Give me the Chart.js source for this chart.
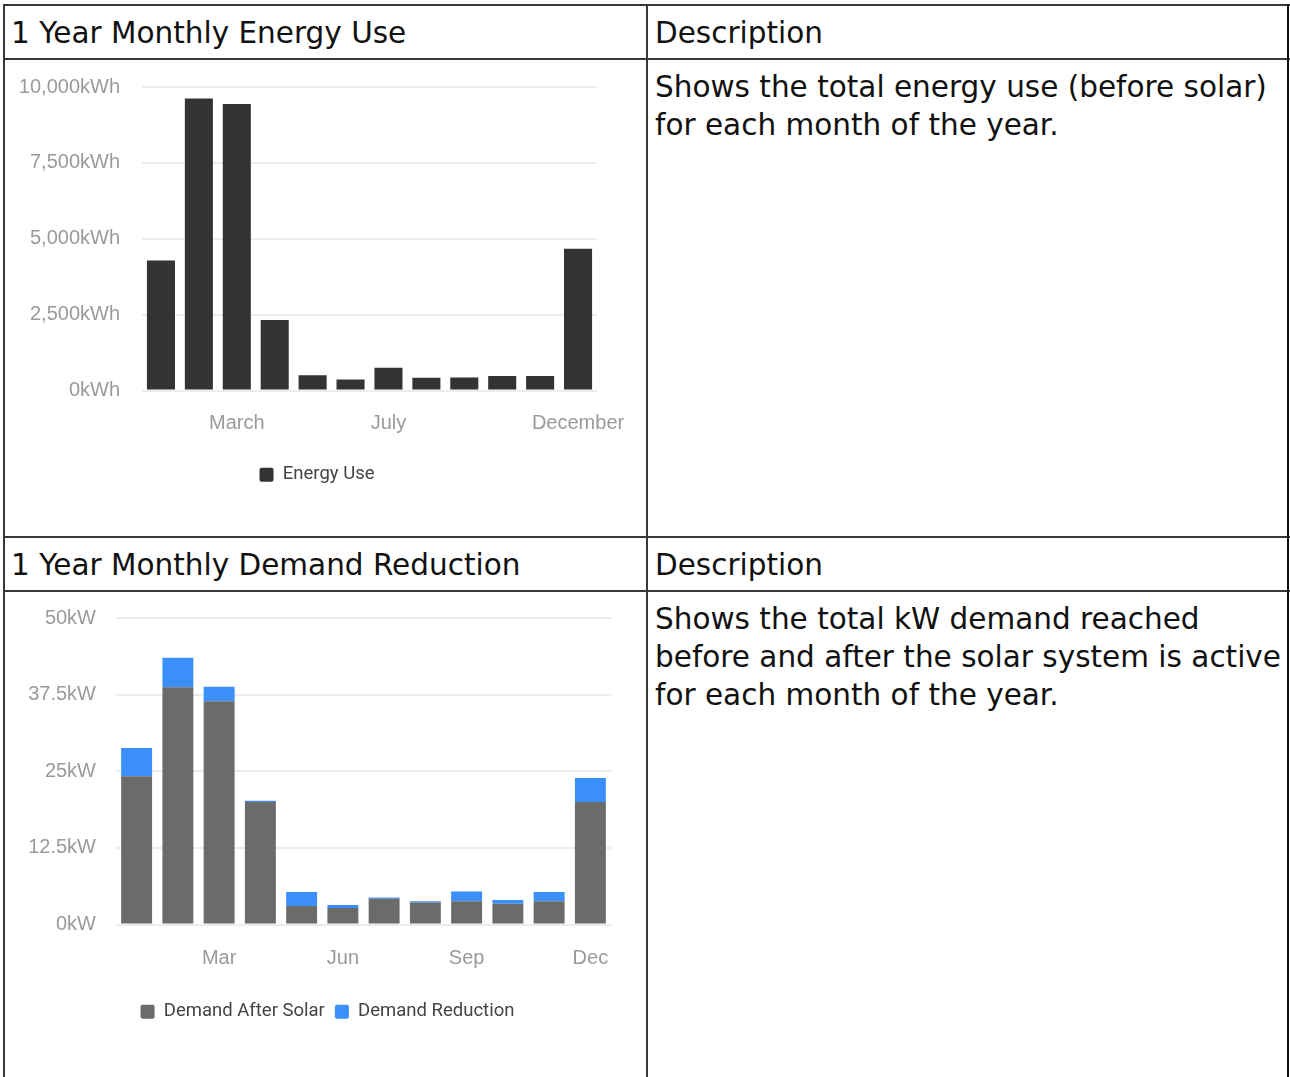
<!DOCTYPE html>
<html>
<head>
<meta charset="utf-8">
<title>Monthly Energy Use and Demand Reduction</title>
<script src="https://cdn.jsdelivr.net/npm/chart.js@4"></script>
<style>
  html, body { margin: 0; padding: 0; background: #fff; width: 1290px; height: 1077px; overflow: hidden; }
  .rule { position: absolute; background: #383838; }
  .txt { position: absolute; font-family: 'DejaVu Sans', sans-serif; font-size: 29.5px; line-height: 38px; color: #111; white-space: nowrap; }
  .cell { position: absolute; }
</style>
</head>
<body>
  <!-- table rules -->
  <div class="rule" style="left:3px;top:4px;width:1287px;height:2px"></div>
  <div class="rule" style="left:3px;top:58px;width:1287px;height:2px"></div>
  <div class="rule" style="left:3px;top:536px;width:1287px;height:2px"></div>
  <div class="rule" style="left:3px;top:590px;width:1287px;height:2px"></div>
  <div class="rule" style="left:3px;top:4px;width:2px;height:1073px"></div>
  <div class="rule" style="left:646px;top:4px;width:2px;height:1073px"></div>
  <div class="rule" style="left:1287px;top:4px;width:2px;height:1073px;background:#111"></div>

  <div class="txt" style="left:11px;top:14px">1 Year Monthly Energy Use</div>
  <div class="txt" style="left:655px;top:14px">Description</div>
  <div class="txt" style="left:655px;top:68px">Shows the total energy use (before solar)<br>for each month of the year.</div>

  <div class="txt" style="left:11px;top:546px">1 Year Monthly Demand Reduction</div>
  <div class="txt" style="left:655px;top:546px">Description</div>
  <div class="txt" style="left:655px;top:600px">Shows the total kW demand reached<br>before and after the solar system is active<br>for each month of the year.</div>

  <div class="cell" style="left:5px;top:60px;width:641px;height:476px"><canvas id="energyChart"></canvas></div>
  <div class="cell" style="left:5px;top:592px;width:641px;height:485px"><canvas id="demandChart"></canvas></div>

<script>
// Monthly energy use (kWh)
const months = ['January', 'February', 'March', 'April', 'May', 'June',
                'July', 'August', 'September', 'October', 'November', 'December'];
const energyUse = [4280, 9620, 9440, 2320, 500, 360, 750, 420, 430, 480, 480, 4670];
const energyTickLabels = ['March', 'July', 'December'];

// Monthly peak demand (kW)
const monthsShort = ['Jan', 'Feb', 'Mar', 'Apr', 'May', 'Jun',
                     'Jul', 'Aug', 'Sep', 'Oct', 'Nov', 'Dec'];
const demandAfterSolar = [24.2, 38.7, 36.4, 20.0, 3.0, 2.7, 4.2, 3.6, 3.8, 3.4, 3.8, 20.0];
const demandReduction  = [4.6, 4.8, 2.4, 0.2, 2.3, 0.5, 0.2, 0.2, 1.6, 0.6, 1.5, 3.9];
const demandTickLabels = ['Mar', 'Jun', 'Sep', 'Dec'];

Chart.defaults.font.family = "'Liberation Sans', Arial, sans-serif";
Chart.defaults.animation = false;

const tickGrey = '#9a9a9a';

function legendOptions() {
  return {
    position: 'bottom',
    labels: {
      font: { family: 'Roboto', size: 18.5 },
      color: '#444',
      boxWidth: 14,
      boxHeight: 14,
      padding: 10,
      useBorderRadius: true,
      borderRadius: 2
    }
  };
}

function categoryAxis(shown, pad, height, stacked) {
  return {
    stacked: stacked,
    grid: { display: false },
    border: { display: false },
    ticks: {
      autoSkip: false,
      maxRotation: 0,
      padding: pad,
      color: tickGrey,
      font: { size: 20 },
      callback: function (value) {
        const label = this.getLabelForValue(value);
        return shown.includes(label) ? label : '';
      }
    },
    afterFit: s => { s.height = height; }
  };
}

function valueAxis(max, step, unit, pad, width, stacked) {
  return {
    stacked: stacked,
    min: 0,
    max: max,
    grid: { color: '#ececec', lineWidth: 2, drawTicks: false },
    border: { display: false },
    ticks: {
      stepSize: step,
      padding: pad,
      color: tickGrey,
      font: { size: 20 },
      callback: v => v.toLocaleString('en-US') + unit
    },
    // fixed axis width; the label gap should not push the plot area down
    afterFit: s => { s.width = width; s.paddingTop = 0; s.paddingBottom = 0; }
  };
}

function spacerAxis(width) {
  return {
    position: 'right',
    display: true,
    grid: { display: false },
    border: { display: false },
    ticks: { display: false },
    afterFit: s => { s.width = width; }
  };
}

new Chart(document.getElementById('energyChart'), {
  type: 'bar',
  data: {
    labels: months,
    datasets: [{
      label: 'Energy Use',
      data: energyUse,
      backgroundColor: '#333333',
      borderWidth: 0,
      barPercentage: 0.74,
      categoryPercentage: 1
    }]
  },
  options: {
    responsive: true,
    maintainAspectRatio: false,
    layout: { padding: { top: 27, right: 17, bottom: 42, left: 0 } },
    plugins: { legend: legendOptions(), tooltip: { enabled: false } },
    scales: {
      x: categoryAxis(energyTickLabels, 13, 65, false),
      y: valueAxis(10000, 2500, 'kWh', 22, 137, false),
      yR: spacerAxis(32)
    }
  }
});

new Chart(document.getElementById('demandChart'), {
  type: 'bar',
  data: {
    labels: monthsShort,
    datasets: [{
      label: 'Demand After Solar',
      data: demandAfterSolar,
      backgroundColor: '#6b6b6b',
      borderWidth: 0,
      barPercentage: 0.75,
      categoryPercentage: 1
    }, {
      label: 'Demand Reduction',
      data: demandReduction,
      backgroundColor: '#3b8ffa',
      borderWidth: 0,
      barPercentage: 0.75,
      categoryPercentage: 1
    }]
  },
  options: {
    responsive: true,
    maintainAspectRatio: false,
    layout: { padding: { top: 26, right: 0, bottom: 46, left: 4 } },
    plugins: { legend: legendOptions(), tooltip: { enabled: false } },
    scales: {
      x: categoryAxis(demandTickLabels, 14, 68, true),
      y: valueAxis(50, 12.5, 'kW', 20, 107, true),
      yR: spacerAxis(35)
    }
  }
});
</script>
</body>
</html>
